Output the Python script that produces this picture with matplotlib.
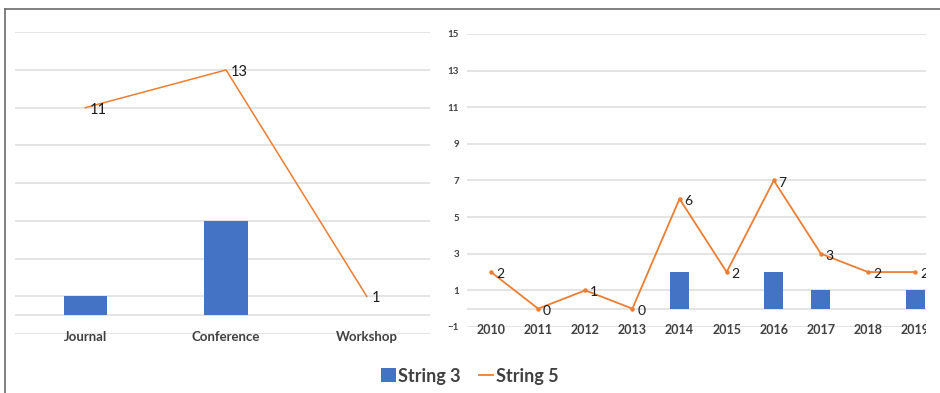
import matplotlib
matplotlib.use('Agg')
import matplotlib.pyplot as plt
from matplotlib.lines import Line2D
from matplotlib.patches import Patch, Rectangle

# left panel: publication type
venues = ['Journal', 'Conference', 'Workshop']
venue_string3 = [1, 5, 0]
venue_string5 = [11, 13, 1]

# right panel: year
years = ['2010', '2011', '2012', '2013', '2014', '2015', '2016', '2017', '2018', '2019']
year_string3 = [0, 0, 0, 0, 2, 0, 2, 1, 0, 1]
year_string5 = [2, 0, 1, 0, 6, 2, 7, 3, 2, 2]

y_ticks = [-1, 1, 3, 5, 7, 9, 11, 13, 15]

BLUE = '#4472C4'
ORANGE = '#ED7D31'
GRID = '#DCDCDC'
TXT = '#404040'

plt.rcParams['font.family'] = ['Lato', 'DejaVu Sans']

fig = plt.figure(figsize=(9.4, 3.93), dpi=100)
ax1 = fig.add_axes([0.016, 0.150, 0.4415, 0.768])
ax2 = fig.add_axes([0.4973, 0.168, 0.4878, 0.7455])


def style_axes(ax, show_yticks):
    for s in ax.spines.values():
        s.set_visible(False)
    ax.set_ylim(-1, 15)
    for v in y_ticks + [0]:
        ax.axhline(v, color=GRID, lw=1.1, zorder=0)
    ax.set_yticks(y_ticks)
    if show_yticks:
        ax.tick_params(axis='y', length=0, pad=6, labelsize=7, labelcolor=TXT)
        for lbl in ax.get_yticklabels():
            lbl.set_fontweight('bold')
    else:
        ax.tick_params(axis='y', length=0, labelleft=False)
    ax.tick_params(axis='x', length=0, pad=-2, labelcolor=TXT)


def label_points(ax, xs, ys, size):
    for x, y in zip(xs, ys):
        ax.annotate(str(y), (x, y), xytext=(3.5, -1.5), textcoords='offset points',
                    ha='left', va='center', fontsize=size, color='#1a1a1a')


# left chart
x1 = list(range(len(venues)))
style_axes(ax1, False)
ax1.bar(x1, venue_string3, width=0.31, color=BLUE, zorder=2)
ax1.plot(x1, venue_string5, color=ORANGE, lw=1.1, zorder=3)
label_points(ax1, x1, venue_string5, 10.5)
ax1.set_xticks(x1)
ax1.set_xticklabels(venues, fontsize=9.5, fontweight='bold')
ax1.set_xlim(-0.5, 2.45)

# right chart
x2 = list(range(len(years)))
style_axes(ax2, True)
ax2.bar(x2, year_string3, width=0.4, color=BLUE, zorder=2)
ax2.plot(x2, year_string5, color=ORANGE, lw=1.3, marker='o', markersize=2.2, zorder=3)
label_points(ax2, x2, year_string5, 10)
ax2.set_xticks(x2)
ax2.set_xticklabels(years, fontsize=9, fontweight='bold')
ax2.set_xlim(-0.5, 9.23)

# image is cropped on the right
fig.patches.append(Rectangle((0.985, 0.08), 0.015, 0.88, transform=fig.transFigure,
                             facecolor='white', edgecolor='none', zorder=10))

# frame border (top and left)
fig.lines.append(Line2D([0.0053, 1.0], [0.976, 0.976], transform=fig.transFigure,
                        color='#6b6b6b', lw=1.2))
fig.lines.append(Line2D([0.0053, 0.0053], [0.0, 0.976], transform=fig.transFigure,
                        color='#6b6b6b', lw=1.2))

handles = [Patch(facecolor=BLUE, edgecolor='none', label='String 3'),
           Line2D([], [], color=ORANGE, lw=1.3, label='String 5')]
leg = fig.legend(handles=handles, loc='center', bbox_to_anchor=(0.5, 0.043), ncol=2,
                 frameon=False, fontsize=13, handlelength=0.8, handleheight=0.8,
                 handletextpad=0.15, columnspacing=1.0)
for t in leg.get_texts():
    t.set_color(TXT)
    t.set_fontweight('bold')

fig.savefig('out.png', dpi=100)
